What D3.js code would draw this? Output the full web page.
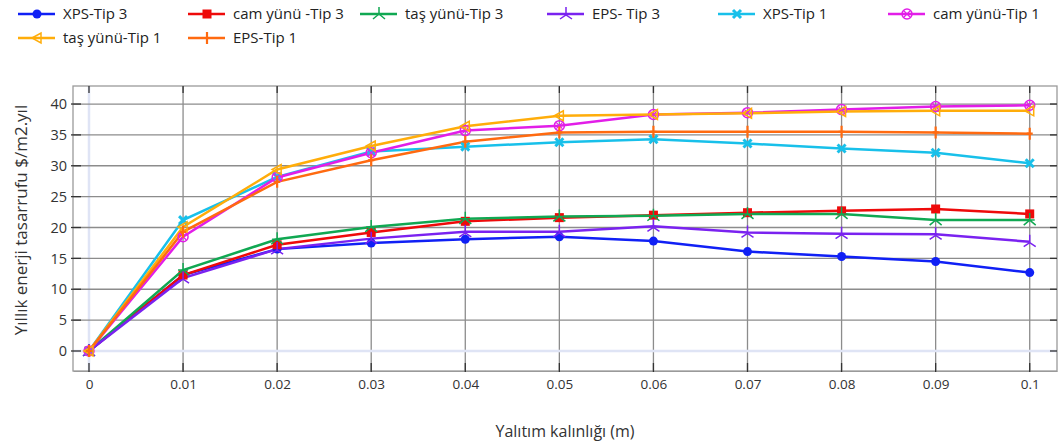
<!DOCTYPE html>
<html><head><meta charset="utf-8">
<script src="https://cdn.jsdelivr.net/npm/d3@7"></script>
<style>body{margin:0;background:#fff}svg{display:block}text{font-family:"Open Sans",sans-serif}</style>
</head><body><svg id="c" width="1062" height="445"></svg>
<script>
const xValues = [0,0.01,0.02,0.03,0.04,0.05,0.06,0.07,0.08,0.09,0.1];
const xTickLabels = ["0","0.01","0.02","0.03","0.04","0.05","0.06","0.07","0.08","0.09","0.1"];
const yTicks = [0,5,10,15,20,25,30,35,40];
const seriesNames = ["XPS-Tip 3","cam yünü -Tip 3","taş yünü-Tip 3","EPS- Tip 3","XPS-Tip 1","cam yünü-Tip 1","taş yünü-Tip 1","EPS-Tip 1"];
const xpsTip3   = [0,12.3,16.5,17.5,18.1,18.5,17.8,16.1,15.3,14.5,12.7];
const camTip3   = [0,12.3,17.2,19.2,21.0,21.6,22.0,22.4,22.7,23.0,22.2];
const tasTip3   = [0,13.1,18.1,20.1,21.4,21.8,21.9,22.2,22.2,21.2,21.2];
const epsTip3   = [0,11.8,16.5,18.2,19.3,19.3,20.2,19.2,19.0,18.9,17.7];
const xpsTip1   = [0,21.2,28.2,32.3,33.1,33.8,34.3,33.6,32.8,32.1,30.4];
const camTip1   = [0,18.5,28.1,32.1,35.7,36.5,38.3,38.6,39.1,39.6,39.8];
const tasTip1   = [0,20.1,29.4,33.2,36.4,38.1,38.3,38.5,38.8,38.9,38.9];
const epsTip1   = [0,19.3,27.4,30.9,33.9,35.4,35.5,35.5,35.5,35.4,35.2];
const seriesValues = [xpsTip3,camTip3,tasTip3,epsTip3,xpsTip1,camTip1,tasTip1,epsTip1];
const colors = ["#1020f5","#ee0a0a","#10a852","#7a22f0","#18c0ea","#e21ee8","#ffad0a","#ff6a10"];
const markers = ["circle","square","star","vbar","cross","circx","tri","plus"];

const svg = d3.select("#c");
const L=73,R=1057,T=86,B=371;
const x = d3.scaleLinear().domain([-0.0017,0.1029]).range([L,R]);
const y = d3.scaleLinear().domain([-3.24,42.92]).range([B,T]);

// grid
const g = svg.append("g");
g.selectAll(".gx").data(xValues).enter().append("line")
 .attr("x1",d=>x(d)).attr("x2",d=>x(d)).attr("y1",T).attr("y2",B)
 .attr("stroke",d=>d===0?"#dfe4f5":"#8c8c8c").attr("stroke-width",d=>d===0?2.5:1.3);
g.selectAll(".gy").data(yTicks).enter().append("line")
 .attr("x1",L).attr("x2",R).attr("y1",d=>y(d)).attr("y2",d=>y(d))
 .attr("stroke",d=>d===0?"#dfe4f5":"#8c8c8c").attr("stroke-width",d=>d===0?2.5:1.3);
// box
g.append("rect").attr("x",L).attr("y",T).attr("width",R-L).attr("height",B-T)
 .attr("fill","none").attr("stroke","#9a9a9a").attr("stroke-width",1.3);
// tick marks
const xa = d3.axisBottom(x).tickValues(xValues).tickFormat((d,i)=>xTickLabels[i]).tickSize(0).tickPadding(8).tickSizeOuter(0);
const xg = svg.append("g").attr("transform",`translate(0,${B})`).call(xa);
xg.select(".domain").attr("stroke","#9a9a9a");
xg.selectAll("text").attr("font-size",13.5).attr("fill","#333");
svg.append("g").selectAll("line").data(xValues).enter().append("line")
 .attr("x1",d=>x(d)).attr("x2",d=>x(d)).attr("y1",B-8).attr("y2",B+1).attr("stroke","#333").attr("stroke-width",1.3);
svg.append("g").selectAll("line").data(xValues).enter().append("line")
 .attr("x1",d=>x(d)).attr("x2",d=>x(d)).attr("y1",T).attr("y2",T+7).attr("stroke","#333").attr("stroke-width",1.3);
const ya = d3.axisLeft(y).tickValues(yTicks).tickSize(0).tickPadding(6);
const yg = svg.append("g").attr("transform",`translate(${L},0)`).call(ya);
yg.select(".domain").remove();
yg.selectAll("text").attr("font-size",14.5).attr("fill","#333");
svg.append("g").selectAll("line").data(yTicks).enter().append("line")
 .attr("x1",L-2).attr("x2",L+8).attr("y1",d=>y(d)).attr("y2",d=>y(d)).attr("stroke","#333").attr("stroke-width",1.3);
svg.append("g").selectAll("line").data(yTicks).enter().append("line")
 .attr("x1",R-7).attr("x2",R).attr("y1",d=>y(d)).attr("y2",d=>y(d)).attr("stroke","#333").attr("stroke-width",1.3);

// axis titles
svg.append("text").attr("x",565).attr("y",437).attr("text-anchor","middle").attr("font-size",16).attr("fill","#333").text("Yalıtım kalınlığı (m)");
svg.append("text").attr("transform","translate(27,220) rotate(-90)").attr("text-anchor","middle").attr("font-size",17).attr("fill","#333").text("Yıllık enerji tasarrufu $/m2.yıl");

function drawMarker(sel,type,color,cx,cy){
  const s=sel.append("g").attr("transform",`translate(${cx},${cy})`);
  if(type==="circle") s.append("circle").attr("r",4.5).attr("fill",color);
  else if(type==="square") s.append("rect").attr("x",-4.5).attr("y",-4.5).attr("width",9).attr("height",9).attr("fill",color);
  else if(type==="star"){ s.append("path").attr("d","M0,-7L0,0M0,0L-6,5M0,0L6,5M-5,0L5,0").attr("stroke",color).attr("stroke-width",1.5).attr("fill","none"); }
  else if(type==="vbar"){ s.append("path").attr("d","M0,-7L0,2M-6,5L0,1L6,5").attr("stroke",color).attr("stroke-width",1.5).attr("fill","none"); }
  else if(type==="cross"){ s.append("path").attr("d","M-4,-4L4,4M-4,4L4,-4").attr("stroke",color).attr("stroke-width",3).attr("fill","none"); }
  else if(type==="circx"){ s.append("circle").attr("r",5).attr("fill","none").attr("stroke",color).attr("stroke-width",1.5); s.append("path").attr("d","M-3,-3L3,3M-3,3L3,-3").attr("stroke",color).attr("stroke-width",1.2); }
  else if(type==="tri"){ s.append("path").attr("d","M-5,0L4,-5L4,5Z").attr("fill","none").attr("stroke",color).attr("stroke-width",1.5); }
  else if(type==="plus"){ s.append("path").attr("d","M0,-6L0,6M-3,0L3,0").attr("stroke",color).attr("stroke-width",2.2); }
}

const line = d3.line().x((d,i)=>x(xValues[i])).y(d=>y(d));
const plot = svg.append("g");
seriesValues.forEach((vals,si)=>{
  plot.append("path").datum(vals).attr("d",line).attr("fill","none").attr("stroke",colors[si]).attr("stroke-width",2.5);
});
seriesValues.forEach((vals,si)=>{
  vals.forEach((v,i)=>drawMarker(plot,markers[si],colors[si],x(xValues[i]),y(v)));
});

// legend
const legPos = [[18,14],[188,14],[360,14],[547,14],[718,14],[888,14],[18,38],[188,38]];
seriesNames.forEach((n,i)=>{
  const [lx,ly]=legPos[i];
  const lg=svg.append("g");
  lg.append("line").attr("x1",lx).attr("x2",lx+37).attr("y1",ly).attr("y2",ly).attr("stroke",colors[i]).attr("stroke-width",2.5);
  drawMarker(lg,markers[i],colors[i],lx+19,ly);
  lg.append("text").attr("x",lx+45).attr("y",ly+5).attr("font-size",15).attr("fill","#222").text(n);
});
</script></body></html>
